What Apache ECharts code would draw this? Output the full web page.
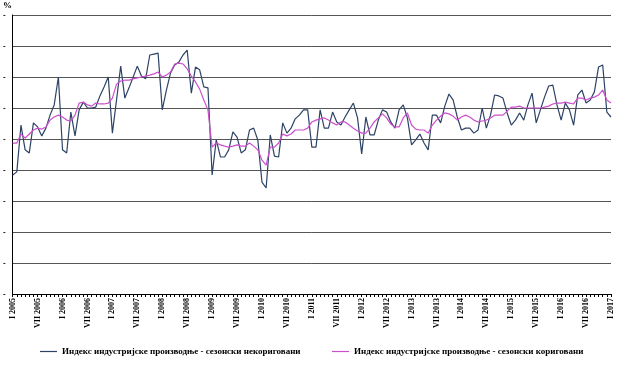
<!DOCTYPE html>
<html><head><meta charset="utf-8">
<script src="https://cdn.jsdelivr.net/npm/echarts@6/dist/echarts.min.js"></script>
<style>html,body{margin:0;padding:0;background:#fff}#c{width:623px;height:380px}</style>
</head><body><div id="c"></div>
<script>
const monthNames = ['I','II','III','IV','V','VI','VII','VIII','IX','X','XI','XII'];
const years = [2005,2006,2007,2008,2009,2010,2011,2012,2013,2014,2015,2016,2017];
const categories = [];
years.forEach(y => monthNames.forEach((m, k) => { if (y < 2017 || k === 0) categories.push(m + ' ' + y); }));

const seriesNames = [
  'Индекс индустријске производње - сезонски некориговани',
  'Индекс индустријске производње - сезонски кориговани'
];

const original = [
  78.4,79.4,94.5,86.5,85.5,95.2,93.9,91.0,93.5,97.7,101.0,110.0,
  86.5,85.5,98.7,91.0,99.4,101.9,100.0,100.0,100.3,103.9,106.8,110.0,
  91.9,102.6,113.5,103.2,106.5,110.0,113.5,110.3,109.4,117.1,117.4,117.7,
  99.4,105.8,111.3,113.9,114.8,117.1,118.7,104.8,113.2,112.3,106.8,106.5,
  78.4,89.7,84.2,84.2,86.5,92.3,90.6,85.5,86.5,92.9,93.5,89.7,
  76.1,74.2,91.3,84.5,84.2,95.2,91.9,93.5,96.5,97.7,99.4,99.4,
  87.4,87.4,99.4,93.5,93.5,98.7,95.5,94.5,97.1,99.4,101.6,96.8,
  85.2,97.1,91.3,91.3,96.1,99.4,98.7,95.5,93.5,99.4,101.0,96.8,
  88.1,89.7,91.6,88.7,86.5,97.7,97.7,95.2,100.6,104.5,102.6,97.1,
  92.9,93.5,93.5,91.9,92.9,100.0,93.5,97.7,104.2,103.9,103.2,98.4,
  94.5,96.1,98.4,96.1,101.0,104.8,95.2,99.4,103.5,107.1,107.4,101.0,
  96.1,101.6,99.4,94.5,104.2,105.8,101.6,102.6,105.2,113.2,113.9,98.7,
  97.1
];

const adjusted = [
  88.7,88.7,91.6,90.3,91.6,92.9,93.5,93.2,93.9,96.1,97.1,97.7,
  97.1,96.1,95.8,97.7,101.6,101.9,101.0,100.6,101.6,101.3,101.3,101.6,
  103.2,107.7,108.7,109.0,109.0,109.4,109.7,110.0,110.3,110.6,111.0,111.6,
  110.0,110.6,111.6,114.2,114.5,114.2,112.6,110.3,108.4,106.1,102.6,99.4,
  87.4,88.7,88.1,87.7,87.4,87.7,88.1,87.7,87.7,88.7,87.7,86.5,
  83.2,81.6,87.4,87.4,88.7,91.6,91.0,91.6,92.9,92.9,92.9,93.5,
  95.5,96.1,96.5,96.8,96.1,95.2,94.5,95.5,95.5,94.5,93.5,92.6,
  91.9,91.9,93.5,95.5,96.8,98.1,96.8,94.8,93.9,93.9,96.8,98.4,
  94.5,93.2,92.9,92.9,91.9,94.5,96.1,97.4,98.4,98.1,97.4,96.1,
  97.1,97.7,97.1,96.1,95.5,95.8,96.1,96.8,97.7,97.7,97.7,99.0,
  100.3,100.3,100.6,100.0,100.0,100.0,100.0,100.0,100.3,100.6,101.3,101.6,
  101.6,101.9,101.6,101.3,103.2,103.2,102.6,103.2,103.5,104.2,105.8,102.6,
  101.6
];

const blue = '#2d4366';
const pink = '#cc4fcc';
const chart = echarts.init(document.getElementById('c'), null, {renderer: 'canvas'});
const legendText = {fontFamily: 'Liberation Serif', fontWeight: 'bold', fontSize: 9, color: '#000'};
chart.setOption({
  animation: false,
  backgroundColor: '#fff',
  grid: {left: 10, right: 12, top: 15, bottom: 86, containLabel: false},
  graphic: [{type: 'text', left: 3, top: 1, style: {text: '%', font: 'bold 9px "Liberation Serif"', fill: '#000'}}],
  legend: [
    {data: [{name: seriesNames[0], icon: 'rect', itemStyle: {color: blue}}], left: 35, top: 342, itemWidth: 17, itemHeight: 1.2, textStyle: legendText, itemGap: 4},
    {data: [{name: seriesNames[1], icon: 'rect', itemStyle: {color: pink}}], left: 327, top: 342, itemWidth: 17, itemHeight: 1.2, textStyle: legendText, itemGap: 4}
  ],
  xAxis: {
    type: 'category', data: categories, boundaryGap: false,
    axisLine: {lineStyle: {color: '#000', width: 1}},
    axisTick: {show: true, interval: 0, length: 3, lineStyle: {color: '#000'}},
    axisLabel: {interval: 5, rotate: 90, margin: 4, fontFamily: 'Liberation Serif', fontWeight: 'bold', fontSize: 8, color: '#000'},
    splitLine: {show: false}
  },
  yAxis: {
    type: 'value', min: 40, max: 130, interval: 10,
    axisLine: {show: true, lineStyle: {color: '#000', width: 1}},
    axisTick: {show: false},
    axisLabel: {show: true, formatter: () => '-', margin: 7, fontSize: 8, fontWeight: 'bold', color: '#000'},
    splitLine: {show: true, lineStyle: {color: '#555', width: 1}}
  },
  series: [
    {name: seriesNames[0], type: 'line', data: original, symbol: 'none', lineStyle: {color: blue, width: 1.2}, itemStyle: {color: blue}, z: 2},
    {name: seriesNames[1], type: 'line', data: adjusted, symbol: 'none', lineStyle: {color: pink, width: 1.2}, itemStyle: {color: pink}, z: 3}
  ]
});
</script></body></html>
